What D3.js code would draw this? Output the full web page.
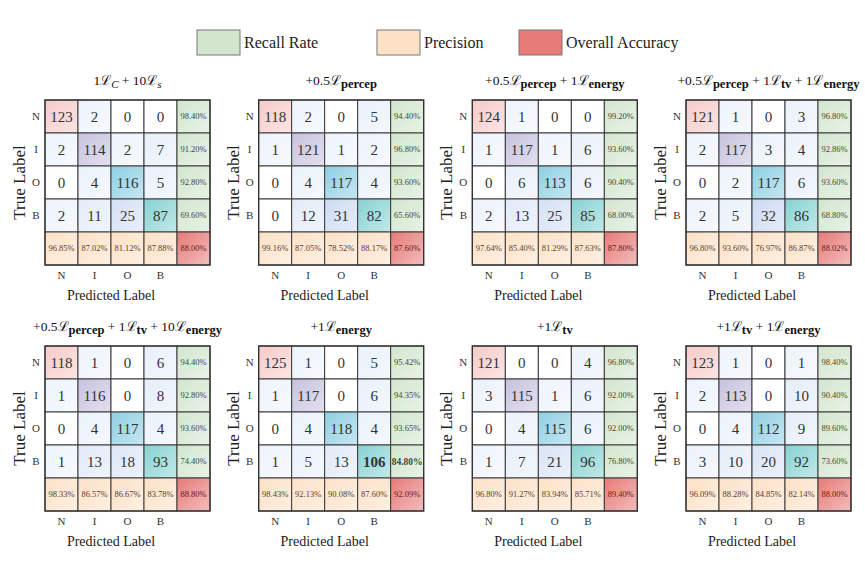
<!DOCTYPE html>
<html><head><meta charset="utf-8">
<script src="https://cdn.jsdelivr.net/npm/d3@7/dist/d3.min.js"></script>
<style>body{margin:0;background:#fff}svg{display:block}svg text{font-family:'Liberation Serif','DejaVu Serif',serif}</style>
</head><body>
<script>
const classes = ["N","I","O","B"];
const legendLabels = ["Recall Rate","Precision","Overall Accuracy"];
// title segments: [text, kind] kind: "n" normal, "i" italic subscript, "b" bold subscript
const titles = [
  [["1ℒ","n"],["C","i"],[" + 10ℒ","n"],["s","i"]],
  [["+0.5ℒ","n"],["percep","b"]],
  [["+0.5ℒ","n"],["percep","b"],[" + 1ℒ","n"],["energy","b"]],
  [["+0.5ℒ","n"],["percep","b"],[" + 1ℒ","n"],["tv","b"],[" + 1ℒ","n"],["energy","b"]],
  [["+0.5ℒ","n"],["percep","b"],[" + 1ℒ","n"],["tv","b"],[" + 10ℒ","n"],["energy","b"]],
  [["+1ℒ","n"],["energy","b"]],
  [["+1ℒ","n"],["tv","b"]],
  [["+1ℒ","n"],["tv","b"],[" + 1ℒ","n"],["energy","b"]]
];
const matrices = [
  [[123,2,0,0],[2,114,2,7],[0,4,116,5],[2,11,25,87]],
  [[118,2,0,5],[1,121,1,2],[0,4,117,4],[0,12,31,82]],
  [[124,1,0,0],[1,117,1,6],[0,6,113,6],[2,13,25,85]],
  [[121,1,0,3],[2,117,3,4],[0,2,117,6],[2,5,32,86]],
  [[118,1,0,6],[1,116,0,8],[0,4,117,4],[1,13,18,93]],
  [[125,1,0,5],[1,117,0,6],[0,4,118,4],[1,5,13,106]],
  [[121,0,0,4],[3,115,1,6],[0,4,115,6],[1,7,21,96]],
  [[123,1,0,1],[2,113,0,10],[0,4,112,9],[3,10,20,92]]
];
const recall = [
  [98.40,91.20,92.80,69.60],
  [94.40,96.80,93.60,65.60],
  [99.20,93.60,90.40,68.00],
  [96.80,92.86,93.60,68.80],
  [94.40,92.80,93.60,74.40],
  [95.42,94.35,93.65,84.80],
  [96.80,92.00,92.00,76.80],
  [98.40,90.40,89.60,73.60]
];
const precision = [
  [96.85,87.02,81.12,87.88],
  [99.16,87.05,78.52,88.17],
  [97.64,85.40,81.29,87.63],
  [96.80,93.60,76.97,86.87],
  [98.33,86.57,86.67,83.78],
  [98.43,92.13,90.08,87.60],
  [96.80,91.27,83.94,85.71],
  [96.09,88.28,84.85,82.14]
];
const overall = [88.00,87.60,87.80,88.02,88.80,92.09,89.40,88.00];
const highlight = [null,null,null,null,null,[3,3],null,null];

const W=865,H=577;
const C_RECALL="#d2e6ce", C_PREC="#fde1c6", C_ACC="#e67b78";
const diagColors=["#f6cbc8","#c7c2df","#8ecfe3","#87d2d2"];
const offScale=d3.scaleLinear().domain([1,35]).range(["#eef4fc","#c9d8f1"]).clamp(true);

const svg=d3.select("body").append("svg").attr("width",W).attr("height",H);
const defs=svg.append("defs");
const g=defs.append("linearGradient").attr("id","sheen").attr("x1","0").attr("y1","0").attr("x2","1").attr("y2","1");
g.append("stop").attr("offset","0").attr("stop-color","#fff").attr("stop-opacity",0);
g.append("stop").attr("offset","1").attr("stop-color","#fff").attr("stop-opacity",0.5);

// legend
const legX=[197,377,519];
legendLabels.forEach((t,i)=>{
  svg.append("rect").attr("x",legX[i]).attr("y",30).attr("width",43).attr("height",25)
    .attr("fill",[C_RECALL,C_PREC,C_ACC][i]).attr("stroke","#777").attr("stroke-width",1);
  svg.append("text").attr("x",legX[i]+47).attr("y",48).attr("font-size",16).attr("fill","#222").text(t);
});

const size=165;
const band=d3.scaleBand().domain([...classes,"T"]).range([0,size]);
const panelX=d3.scaleLinear().domain([0,3]).range([45,686]);
const panelY=d3.scaleLinear().domain([0,1]).range([100,346]);

matrices.forEach((m,p)=>{
  const gx=panelX(p%4), gy=panelY(Math.floor(p/4));
  const pg=svg.append("g").attr("transform",`translate(${gx},${gy})`);
  const cells=[];
  m.forEach((row,i)=>row.forEach((v,j)=>{
    cells.push({r:classes[i],c:classes[j],text:String(v),
      fill: i===j?diagColors[i]:(v===0?"#ffffff":offScale(v)),num:true,
      bold: highlight[p]&&highlight[p][0]===i&&highlight[p][1]===j});
  }));
  recall[p].forEach((v,i)=>cells.push({r:classes[i],c:"T",text:v.toFixed(2)+"%",fill:C_RECALL,num:false,tc:"#3d4a3a",
      bold: highlight[p]&&highlight[p][0]===i}));
  precision[p].forEach((v,j)=>cells.push({r:"T",c:classes[j],text:v.toFixed(2)+"%",fill:C_PREC,num:false,tc:"#5a4030"}));
  cells.push({r:"T",c:"T",text:overall[p].toFixed(2)+"%",fill:C_ACC,num:false,tc:"#6a1a1a"});

  const cg=pg.selectAll("g.cell").data(cells).join("g").attr("class","cell")
    .attr("transform",d=>`translate(${band(d.c)},${band(d.r)})`);
  cg.append("rect").attr("width",band.bandwidth()).attr("height",band.bandwidth()).attr("fill",d=>d.fill);
  cg.append("rect").attr("width",band.bandwidth()).attr("height",band.bandwidth()).attr("fill","url(#sheen)")
    .attr("stroke","#3a3a3a").attr("stroke-width",1);
  cg.append("text").attr("x",band.bandwidth()/2).attr("y",band.bandwidth()/2).attr("dy","0.35em")
    .attr("text-anchor","middle").attr("font-size",d=>d.num?15:(d.bold?9.5:8.5))
    .attr("font-weight",d=>d.bold?"bold":"normal")
    .attr("fill",d=>d.num?"#333":d.tc).text(d=>d.text);
  pg.append("rect").attr("width",size).attr("height",size).attr("fill","none").attr("stroke","#333").attr("stroke-width",1.3);

  // ticks
  classes.forEach(c=>{
    pg.append("text").attr("x",-9).attr("y",band(c)+band.bandwidth()/2).attr("dy","0.35em")
      .attr("text-anchor","middle").attr("font-size",11).attr("fill","#333").text(c);
    pg.append("text").attr("x",band(c)+band.bandwidth()/2).attr("y",size+14)
      .attr("text-anchor","middle").attr("font-size",11).attr("fill","#333").text(c);
  });
  const dataMid=(band("N")+band("B")+band.bandwidth())/2;
  pg.append("text").attr("x",dataMid).attr("y",200).attr("text-anchor","middle")
    .attr("font-size",14).attr("fill","#222").text("Predicted Label");
  pg.append("text").attr("transform",`translate(-20,${size/2}) rotate(-90)`).attr("text-anchor","middle")
    .attr("font-size",17).attr("fill","#222").text("True Label");

  // title
  const t=pg.append("text").attr("x",size/2).attr("y",-15).attr("text-anchor","middle")
    .attr("font-size",13.5).attr("fill","#111");
  let shifted=false;
  titles[p].forEach(([s,k])=>{
    const ts=t.append("tspan").text(s);
    if(k!=="n"&&!shifted){ts.attr("dy",3);shifted=true;}
    else if(k==="n"&&shifted){ts.attr("dy",-3);shifted=false;}
    if(k==="b") ts.attr("font-weight","bold").attr("font-size",12.5);
    if(k==="i") ts.attr("font-style","italic").attr("font-size",11);
  });
});
</script>
</body></html>
